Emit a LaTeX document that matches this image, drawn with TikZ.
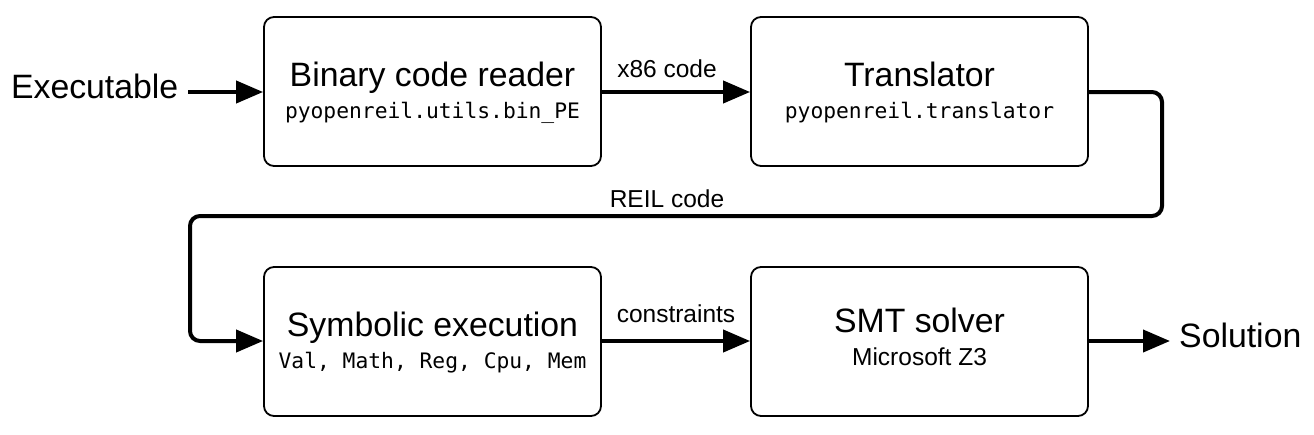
\documentclass[tikz,border=0pt]{standalone}
\usepackage{fontspec}
\setmainfont{Liberation Sans}
\newfontfamily\monof{DejaVu Sans Mono}
\usetikzlibrary{arrows.meta}
\begin{document}
\begin{tikzpicture}[x=1pt,y=-1pt,
 box/.style={draw, line width=1.8pt, rounded corners=10pt, minimum width=337pt, minimum height=149pt, inner sep=0pt},
 conn/.style={line width=4pt, rounded corners=10pt, -{Triangle[length=27pt,width=22pt]}},
 title/.style={font=\fontsize{33.8}{36}\selectfont, inner sep=0pt, anchor=base},
 sub/.style={font=\monof\fontsize{21.3}{24}\selectfont, inner sep=0pt, anchor=base},
 subsans/.style={font=\fontsize{24.5}{28}\selectfont, inner sep=0pt, anchor=base},
 lab/.style={font=\fontsize{24.5}{28}\selectfont, inner sep=0pt, anchor=base}]
\useasboundingbox (0,0) rectangle (1314,434);
% boxes
\node[box] (reader) at (432.5,91.5) {};
\node[box] (trans) at (919.5,91.5) {};
\node[box] (sym) at (432.5,341.5) {};
\node[box] (smt) at (919.5,341.5) {};
% box texts
\node[title] (readerT) at (432.5,86) {Binary code reader};
\node[sub] (readerS) at (432.5,118) {pyopenreil.utils.bin\_PE};
\node[title] (transT) at (919.5,86) {Translator};
\node[sub] (transS) at (919.5,118) {pyopenreil.translator};
\node[title] (symT) at (432.5,336) {Symbolic execution};
\node[sub] (symS) at (432.5,368) {Val, Math, Reg, Cpu, Mem};
\node[title] (smtT) at (919.5,332) {SMT solver};
\node[subsans] (smtS) at (919.5,365) {Microsoft Z3};
% outer labels
\node[title, anchor=base east] (exe) at (178.5,98) {Executable};
\node[title, anchor=base west] (sol) at (1179,347) {Solution};
\coordinate (exeEnd) at (188,92);
\coordinate (solStart) at (1170,341);
% connectors
\draw[conn] (exeEnd) -- (reader.west |- exeEnd);
\draw[conn] (reader.east |- exeEnd) -- (trans.west |- exeEnd);
\coordinate (c1) at (1162,92);
\coordinate (c2) at (1162,216);
\coordinate (c3) at (190,216);
\coordinate (c4) at (190,341);
\draw[conn] (trans.east |- c1) -- (c1) -- (c2) -- (c3) -- (c4) -- (sym.west |- c4);
\draw[conn] (sym.east |- c4) -- (smt.west |- c4);
\draw[conn] (smt.east |- solStart) -- (solStart);
% connector labels
\node[lab] (x86) at (667,77) {x86 code};
\node[lab] (reil) at (667,207) {REIL code};
\node[lab] (cons) at (676,322) {constraints};
\end{tikzpicture}
\end{document}
